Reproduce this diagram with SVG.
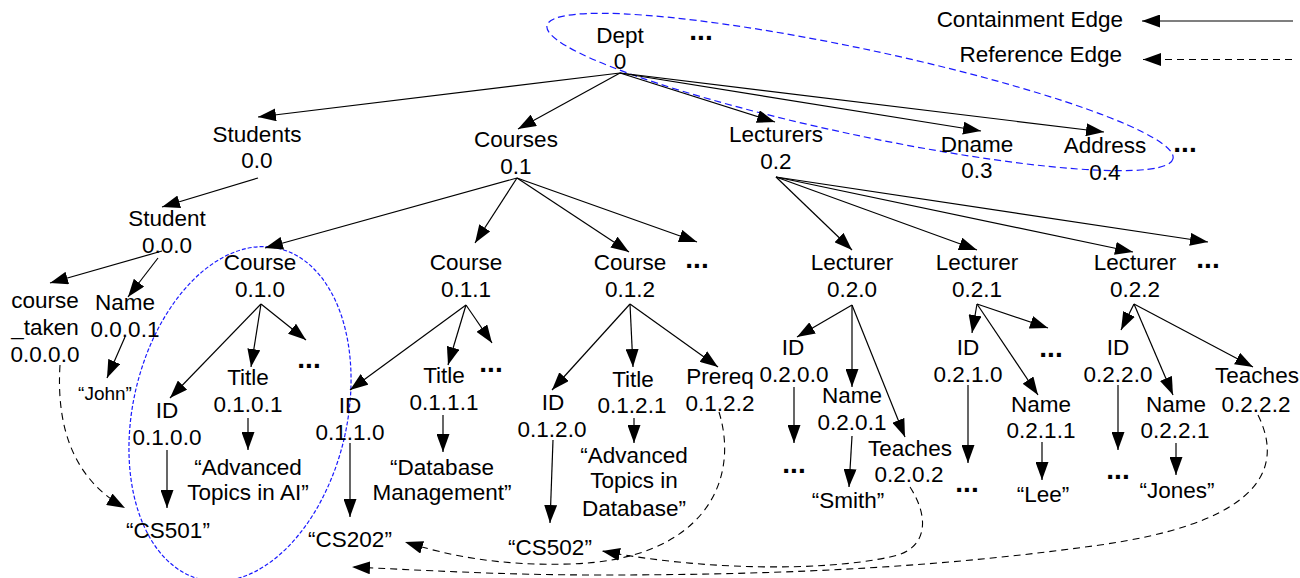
<svg xmlns="http://www.w3.org/2000/svg" width="1300" height="578" viewBox="0 0 1300 578">
<style>
text{font-family:"Liberation Sans",Arial,sans-serif;font-size:22.5px;fill:#000;text-anchor:middle}
.more{font-weight:bold;font-size:28px}
.lg{text-anchor:end}
.ce{stroke:#000;stroke-width:1.2;fill:none;marker-end:url(#arr)}
.re{stroke:#000;stroke-width:1.1;fill:none;stroke-dasharray:7 5;marker-end:url(#arr)}
.blue1{stroke:#1a1aff;stroke-width:1.2;fill:none;stroke-dasharray:7 4}
.blue2{stroke:#1a1aff;stroke-width:1.2;fill:none;stroke-dasharray:4 2}
</style>
<defs>
<marker id="arr" viewBox="0 0 18 13" markerWidth="18" markerHeight="13" markerUnits="userSpaceOnUse" refX="18" refY="6.5" orient="auto">
<path d="M0,0 L18,6.5 L0,13 z" fill="#000"/>
</marker>
</defs>
<rect width="1300" height="578" fill="#fff"/>

<g id="legend">
<text class="lg" x="1123" y="27">Containment Edge</text>
<text class="lg" x="1122" y="62">Reference Edge</text>
<line class="ce" x1="1293" y1="21" x2="1142" y2="21"/>
<line class="re" x1="1292" y1="59.5" x2="1143" y2="59.5"/>
</g>

<g id="highlights">
<ellipse class="blue1" cx="860" cy="92" rx="320" ry="43" transform="rotate(12 860 92)"/>
<ellipse class="blue2" cx="240" cy="414" rx="107" ry="170" transform="rotate(13 240 414)"/>
</g>

<g id="connectors">
<line class="ce" x1="620" y1="73" x2="258" y2="117"/>
<line class="ce" x1="620" y1="73" x2="518" y2="129"/>
<line class="ce" x1="620" y1="73" x2="775" y2="122"/>
<line class="ce" x1="620" y1="73" x2="981" y2="131"/>
<line class="ce" x1="620" y1="73" x2="1104" y2="132"/>
<line class="ce" x1="258" y1="178" x2="162" y2="207"/>
<line class="ce" x1="517" y1="178" x2="265" y2="248"/>
<line class="ce" x1="517" y1="178" x2="475" y2="243"/>
<line class="ce" x1="517" y1="178" x2="629" y2="252"/>
<line class="ce" x1="517" y1="178" x2="697" y2="242"/>
<line class="ce" x1="776" y1="177" x2="852" y2="250"/>
<line class="ce" x1="776" y1="177" x2="977" y2="250"/>
<line class="ce" x1="776" y1="177" x2="1133" y2="252"/>
<line class="ce" x1="776" y1="177" x2="1208" y2="242"/>
<line class="ce" x1="162" y1="251" x2="50" y2="283"/>
<line class="ce" x1="158" y1="258" x2="128" y2="297"/>
<line class="ce" x1="125" y1="337" x2="107" y2="378"/>
<line class="ce" x1="261" y1="304" x2="170" y2="398"/>
<line class="ce" x1="261" y1="304" x2="251" y2="367"/>
<line class="ce" x1="261" y1="304" x2="306" y2="340"/>
<line class="ce" x1="466" y1="305" x2="350" y2="390"/>
<line class="ce" x1="466" y1="305" x2="448" y2="365"/>
<line class="ce" x1="466" y1="305" x2="492" y2="343"/>
<line class="ce" x1="630" y1="304" x2="552" y2="390"/>
<line class="ce" x1="630" y1="304" x2="633" y2="367"/>
<line class="ce" x1="630" y1="304" x2="718" y2="367"/>
<line class="ce" x1="852" y1="305" x2="797" y2="337"/>
<line class="ce" x1="852" y1="305" x2="852" y2="387"/>
<line class="ce" x1="852" y1="305" x2="905" y2="437"/>
<line class="ce" x1="977" y1="304" x2="972" y2="333"/>
<line class="ce" x1="977" y1="304" x2="1038" y2="395"/>
<line class="ce" x1="977" y1="304" x2="1048" y2="328"/>
<line class="ce" x1="1134" y1="304" x2="1121" y2="330"/>
<line class="ce" x1="1134" y1="304" x2="1173" y2="395"/>
<line class="ce" x1="1134" y1="304" x2="1253" y2="367"/>
<line class="ce" x1="167" y1="450" x2="167" y2="508"/>
<line class="ce" x1="248" y1="418" x2="248" y2="450"/>
<line class="ce" x1="350" y1="443" x2="350" y2="517"/>
<line class="ce" x1="443" y1="415" x2="443" y2="452"/>
<line class="ce" x1="553" y1="440" x2="550" y2="523"/>
<line class="ce" x1="634" y1="418" x2="634" y2="443"/>
<line class="ce" x1="794" y1="387" x2="794" y2="443"/>
<line class="ce" x1="852" y1="436" x2="849" y2="487"/>
<line class="ce" x1="968" y1="385" x2="968" y2="463"/>
<line class="ce" x1="1042" y1="442" x2="1042" y2="480"/>
<line class="ce" x1="1118" y1="385" x2="1118" y2="450"/>
<line class="ce" x1="1176" y1="443" x2="1176" y2="475"/>
<path class="re" d="M60 365 C56 430 75 480 125 508"/>
<path class="re" d="M719 412 C740 480 705 560 570 564 C500 566 450 556 405 542"/>
<path class="re" d="M910 487 C930 518 928 550 890 557 C820 572 700 570 602 551"/>
<path class="re" d="M1258 415 C1290 480 1240 525 1100 545 C950 566 800 575 600 575 C500 575 420 570 352 567"/>
</g>

<g id="dept"><text x="620" y="43">Dept</text><text x="620" y="69">0</text></g>
<g id="dept-more"><text class="more" x="701" y="40">...</text></g>
<g id="students"><text x="257" y="142">Students</text><text x="257" y="168">0.0</text></g>
<g id="courses"><text x="516" y="147">Courses</text><text x="516" y="174">0.1</text></g>
<g id="lecturers"><text x="776" y="142">Lecturers</text><text x="776" y="169">0.2</text></g>
<g id="dname"><text x="977" y="152">Dname</text><text x="977" y="178">0.3</text></g>
<g id="address"><text x="1105" y="153">Address</text><text x="1105" y="180">0.4</text></g>
<g id="top-more"><text class="more" x="1185" y="152">...</text></g>
<g id="student"><text x="167" y="226">Student</text><text x="167" y="253">0.0.0</text></g>
<g id="course-taken"><text x="45" y="308">course</text><text x="45" y="335">_taken</text><text x="45" y="362">0.0.0.0</text></g>
<g id="name-0001"><text x="125" y="310">Name</text><text x="125" y="337">0.0.0.1</text></g>
<g id="john"><text x="105" y="400" style="font-size:19px">“John”</text></g>
<g id="course-010"><text x="260" y="270">Course</text><text x="260" y="297">0.1.0</text></g>
<g id="course-011"><text x="466" y="270">Course</text><text x="466" y="297">0.1.1</text></g>
<g id="course-012"><text x="630" y="270">Course</text><text x="630" y="297">0.1.2</text></g>
<g id="courses-more"><text class="more" x="697" y="268">...</text></g>
<g id="lecturer-020"><text x="852" y="270">Lecturer</text><text x="852" y="297">0.2.0</text></g>
<g id="lecturer-021"><text x="977" y="270">Lecturer</text><text x="977" y="297">0.2.1</text></g>
<g id="lecturer-022"><text x="1135" y="270">Lecturer</text><text x="1135" y="297">0.2.2</text></g>
<g id="lecturers-more"><text class="more" x="1208" y="268">...</text></g>
<g id="id-0100"><text x="167" y="418">ID</text><text x="167" y="445">0.1.0.0</text></g>
<g id="title-0101"><text x="248" y="385">Title</text><text x="248" y="412">0.1.0.1</text></g>
<g id="more-010"><text class="more" x="309" y="368">...</text></g>
<g id="cs501"><text x="168" y="538">“CS501”</text></g>
<g id="adv-ai"><text x="248" y="475">“Advanced</text><text x="248" y="500">Topics in AI”</text></g>
<g id="id-0110"><text x="350" y="413">ID</text><text x="350" y="440">0.1.1.0</text></g>
<g id="title-0111"><text x="444" y="383">Title</text><text x="444" y="410">0.1.1.1</text></g>
<g id="more-011"><text class="more" x="491" y="372">...</text></g>
<g id="cs202"><text x="350" y="547">“CS202”</text></g>
<g id="db-mgmt"><text x="442" y="475">“Database</text><text x="442" y="500">Management”</text></g>
<g id="id-0120"><text x="553" y="410">ID</text><text x="552" y="437">0.1.2.0</text></g>
<g id="title-0121"><text x="633" y="387">Title</text><text x="632" y="413">0.1.2.1</text></g>
<g id="prereq-0122"><text x="720" y="384">Prereq</text><text x="720" y="411">0.1.2.2</text></g>
<g id="cs502"><text x="550" y="555">“CS502”</text></g>
<g id="adv-db"><text x="634" y="463">“Advanced</text><text x="634" y="488">Topics in</text><text x="634" y="516">Database”</text></g>
<g id="id-0200"><text x="793" y="355">ID</text><text x="794" y="382">0.2.0.0</text></g>
<g id="name-0201"><text x="852" y="403">Name</text><text x="852" y="430">0.2.0.1</text></g>
<g id="teaches-0202"><text x="910" y="456">Teaches</text><text x="909" y="482">0.2.0.2</text></g>
<g id="more-0200"><text class="more" x="794" y="473">...</text></g>
<g id="smith"><text x="848" y="508">“Smith”</text></g>
<g id="id-0210"><text x="968" y="355">ID</text><text x="968" y="382">0.2.1.0</text></g>
<g id="name-0211"><text x="1041" y="412">Name</text><text x="1041" y="438">0.2.1.1</text></g>
<g id="more-021"><text class="more" x="1051" y="357">...</text></g>
<g id="more-0210"><text class="more" x="967" y="492">...</text></g>
<g id="lee"><text x="1043" y="502">“Lee”</text></g>
<g id="id-0220"><text x="1118" y="355">ID</text><text x="1118" y="382">0.2.2.0</text></g>
<g id="name-0221"><text x="1176" y="412">Name</text><text x="1175" y="438">0.2.2.1</text></g>
<g id="teaches-0222"><text x="1257" y="383">Teaches</text><text x="1256" y="412">0.2.2.2</text></g>
<g id="more-0220"><text class="more" x="1118" y="479">...</text></g>
<g id="jones"><text x="1177" y="498">“Jones”</text></g>
</svg>
